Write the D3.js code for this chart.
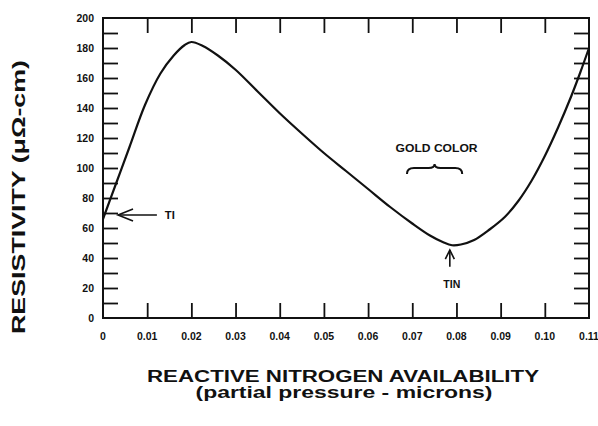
<!DOCTYPE html>
<html>
<head>
<meta charset="utf-8">
<script src="https://cdn.jsdelivr.net/npm/d3@7"></script>
<style>
  html, body { margin: 0; padding: 0; background: #fff; }
  svg { display: block; }
  text { font-family: "Liberation Sans", Arial, Helvetica, sans-serif; font-weight: bold; fill: #111; }
</style>
</head>
<body>
<svg id="chart" width="598" height="426"></svg>
<script>
// ---- data ----
const pressure = [0, 0.003, 0.006, 0.0095, 0.013, 0.016, 0.0185, 0.020, 0.0225, 0.026, 0.030, 0.035,
  0.040, 0.045, 0.050, 0.055, 0.060, 0.065, 0.070, 0.074, 0.077, 0.079, 0.081, 0.084, 0.0875,
  0.091, 0.094, 0.097, 0.100, 0.103, 0.106, 0.108, 0.110];
const resistivity = [66, 90, 114, 142, 163, 175, 182, 184, 181.5, 175, 165.5, 151,
  136.5, 123, 110, 98, 86, 74, 63, 55, 50.5, 48.5, 49, 52, 59,
  67.5, 78, 91.5, 108, 127, 148, 163.5, 180];
const xTickValues = [0, 0.01, 0.02, 0.03, 0.04, 0.05, 0.06, 0.07, 0.08, 0.09, 0.10, 0.11];
const xTickLabels = ["0", "0.01", "0.02", "0.03", "0.04", "0.05", "0.06", "0.07", "0.08", "0.09", "0.10", "0.11"];
const yTickValues = [0, 20, 40, 60, 80, 100, 120, 140, 160, 180, 200];
const yMinorValues = [10, 20, 30, 40, 50, 60, 70, 80, 90, 100, 110, 120, 130, 140, 150, 160, 170, 180, 190];
const yTitle = "RESISTIVITY (\u03bc\u03a9-cm)";
const xTitle1 = "REACTIVE NITROGEN AVAILABILITY";
const xTitle2 = "(partial pressure - microns)";
const annTI = { label: "TI", tipX: 0.0034, tailX: 0.0122, y: 68.7, textX: 0.014 };
const annTIN = { label: "TIN", x: 0.0785, tipY: 45.3, tailY: 34.2, textY: 20 };
const annGold = { label: "GOLD COLOR", x0: 0.0688, x1: 0.0813, textY: 110.5 };

// ---- layout ----
const svg = d3.select("#chart");
const mLeft = 103, mRight = 589, mTop = 18, mBottom = 318;
const x = d3.scaleLinear().domain([0, 0.11]).range([mLeft, mRight]);
const y = d3.scaleLinear().domain([0, 200]).range([mBottom, mTop]);
const tickLen = 15;

// frame
svg.append("rect").attr("x", mLeft).attr("y", mTop)
  .attr("width", mRight - mLeft).attr("height", mBottom - mTop)
  .attr("fill", "none").attr("stroke", "#111").attr("stroke-width", 2);

// x ticks (bottom & top, inward)
const innerX = xTickValues.filter(v => v > 0 && v < 0.11);
const axB = svg.append("g").attr("transform", `translate(0,${mBottom})`)
  .call(d3.axisBottom(x).tickValues(innerX).tickSize(-tickLen).tickFormat(""));
const axT = svg.append("g").attr("transform", `translate(0,${mTop})`)
  .call(d3.axisTop(x).tickValues(innerX).tickSize(-tickLen).tickFormat(""));
// y ticks (left & right, inward)
const axL = svg.append("g").attr("transform", `translate(${mLeft},0)`)
  .call(d3.axisLeft(y).tickValues(yMinorValues).tickSize(-tickLen).tickFormat(""));
const axR = svg.append("g").attr("transform", `translate(${mRight},0)`)
  .call(d3.axisRight(y).tickValues(yMinorValues).tickSize(-tickLen).tickFormat(""));
[axB, axT, axL, axR].forEach(g => {
  g.select(".domain").remove();
  g.selectAll("line").attr("stroke", "#111").attr("stroke-width", 1.8);
});

// tick labels
svg.append("g").selectAll("text").data(xTickValues).join("text")
  .attr("x", d => x(d)).attr("y", 340)
  .attr("text-anchor", "middle").attr("font-size", 10.5)
  .text((d, i) => xTickLabels[i]);
svg.append("g").selectAll("text").data(yTickValues).join("text")
  .attr("x", 94).attr("y", d => y(d) + 3.5)
  .attr("text-anchor", "end").attr("font-size", 10.5)
  .text(d => d);

// axis titles
svg.append("text")
  .attr("transform", `translate(25,197) rotate(-90)`)
  .attr("text-anchor", "middle").attr("font-size", 19)
  .attr("textLength", 274).attr("lengthAdjust", "spacingAndGlyphs")
  .text(yTitle);
svg.append("text").attr("x", 343).attr("y", 382)
  .attr("text-anchor", "middle").attr("font-size", 16)
  .attr("textLength", 392).attr("lengthAdjust", "spacingAndGlyphs")
  .text(xTitle1);
svg.append("text").attr("x", 344).attr("y", 398)
  .attr("text-anchor", "middle").attr("font-size", 16)
  .attr("textLength", 297).attr("lengthAdjust", "spacingAndGlyphs")
  .text(xTitle2);

// curve
const data = pressure.map((p, i) => [p, resistivity[i]]);
svg.append("path").datum(data)
  .attr("fill", "none").attr("stroke", "#111").attr("stroke-width", 2.2)
  .attr("stroke-linejoin", "round")
  .attr("d", d3.line().x(d => x(d[0])).y(d => y(d[1])).curve(d3.curveCatmullRom.alpha(0.5)));

// annotations
const ann = svg.append("g").attr("stroke", "#111").attr("fill", "none").attr("stroke-width", 1.6);
// TI arrow
const tiX = x(annTI.tipX), tiY = y(annTI.y);
ann.append("line").attr("x1", tiX).attr("y1", tiY).attr("x2", x(annTI.tailX)).attr("y2", tiY);
ann.append("path").attr("d", `M${tiX + 15},${tiY - 6} L${tiX},${tiY} L${tiX + 15},${tiY + 6}`);
svg.append("text").attr("x", x(annTI.textX)).attr("y", tiY + 4)
  .attr("font-size", 11).attr("textLength", 10).attr("lengthAdjust", "spacingAndGlyphs")
  .text(annTI.label);
// TIN arrow
const tnX = x(annTIN.x), tnTip = y(annTIN.tipY);
ann.append("line").attr("x1", tnX).attr("y1", tnTip).attr("x2", tnX).attr("y2", y(annTIN.tailY));
ann.append("path").attr("d", `M${tnX - 4.5},${tnTip + 9} L${tnX},${tnTip} L${tnX + 4.5},${tnTip + 9}`);
svg.append("text").attr("x", tnX + 2).attr("y", y(annTIN.textY))
  .attr("text-anchor", "middle").attr("font-size", 11)
  .attr("textLength", 17).attr("lengthAdjust", "spacingAndGlyphs")
  .text(annTIN.label);
// GOLD COLOR brace
const gx0 = x(annGold.x0), gx1 = x(annGold.x1), gxc = (gx0 + gx1) / 2;
const yb = 174, ym = 168, yt = 164;
ann.append("path").attr("stroke-width", 2)
  .attr("d", `M${gx0},${yb} Q${gx0},${ym} ${gx0 + 7},${ym} L${gxc - 6},${ym} Q${gxc},${ym} ${gxc},${yt}` +
             ` Q${gxc},${ym} ${gxc + 6},${ym} L${gx1 - 7},${ym} Q${gx1},${ym} ${gx1},${yb}`);
svg.append("text").attr("x", gxc + 2).attr("y", y(annGold.textY))
  .attr("text-anchor", "middle").attr("font-size", 11.5)
  .attr("textLength", 82).attr("lengthAdjust", "spacingAndGlyphs")
  .text(annGold.label);
</script>
</body>
</html>
